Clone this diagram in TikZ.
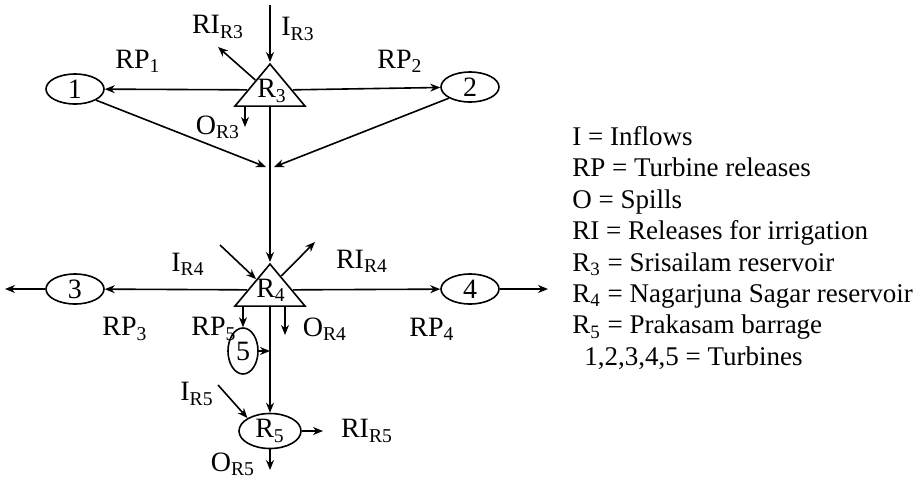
\documentclass[tikz,border=0pt]{standalone}
\usepackage{fontspec}
\setmainfont{Liberation Serif}
\usetikzlibrary{positioning,arrows.meta,calc,shapes.geometric}

\begin{document}
\begin{tikzpicture}[
    x=0.5pt, y=-0.5pt,
    font=\fontsize{14}{15.7}\selectfont,
    >={Stealth[length=5pt,width=4pt]},
    tri/.style={draw, line width=0.8pt, isosceles triangle, shape border rotate=90,
                isosceles triangle stretches, minimum width=35pt, minimum height=21pt,
                inner sep=0pt, anchor=apex},
    turb/.style={draw, line width=0.8pt, ellipse, inner sep=0pt,
                 minimum width=29pt, minimum height=15pt},
    arrow/.style={->, line width=0.8pt}
]
\useasboundingbox (0,0) rectangle (923,478);

% --- Srisailam (R3) ---
\node[tri] (R3) at (270,62) {};
\node (R3txt) at (272,91) {R\textsubscript{3}};
\node[turb] (t1) at (75,89) {1};
\node[turb] (t2) at (470,87) {2};

\coordinate (iR3) at (270,5);
\coordinate (riR3) at (218,47);
\coordinate (oR3) at (245,127);
\coordinate (j3) at (270,167);

\draw[arrow] (iR3) -- (R3.apex);
\draw[arrow] ($(R3.left corner)!0.6!(R3.apex)$) -- (riR3);
\draw[arrow] ($(R3.left corner)!0.38!(R3.apex)$) -- (t1);
\draw[arrow] ($(R3.right corner)!0.38!(R3.apex)$) -- (t2);
\draw[arrow] (oR3 |- R3.lower side) -- (oR3);
\draw[arrow] (t1.south east) -- ([xshift=-2pt]j3);
\draw[->, line width=0.8pt, >={Stealth[open,length=5pt,width=4pt]}] (t2.south west) -- ([xshift=2pt]j3);

\node (lIR3) at (298,29) {I\textsubscript{R3}};
\node (lRIR3) at (218,27) {RI\textsubscript{R3}};
\node (lRP1) at (138,61) {RP\textsubscript{1}};
\node (lRP2) at (400,61) {RP\textsubscript{2}};
\node (lOR3) at (218,127) {O\textsubscript{R3}};

% --- Nagarjuna Sagar (R4) ---
\node[tri] (R4) at (270,262) {};
\node (R4txt) at (271,290) {R\textsubscript{4}};
\node[turb] (t3) at (75,289) {3};
\node[turb] (t4) at (470,289) {4};
\node[turb, minimum width=15pt, minimum height=23pt] (t5) at (243,351) {5};

\coordinate (out3) at (5,289);
\coordinate (out4) at (548,289);
\coordinate (iR4) at (220,245);
\coordinate (riR4) at (315,242);
\coordinate (oR4) at (285,335);

\draw[arrow] (R3.lower side) -- (R4.apex);
\draw[arrow] ($(R4.left corner)!0.38!(R4.apex)$) -- (t3);
\draw[arrow] ($(R4.right corner)!0.38!(R4.apex)$) -- (t4);
\draw[arrow] (t3) -- (out3);
\draw[arrow] (t4) -- (out4);
\draw[arrow] (iR4) -- ($(R4.left corner)!0.62!(R4.apex)$);
\draw[arrow] ($(R4.right corner)!0.69!(R4.apex)$) -- (riR4);
\draw[arrow] (t5.north |- R4.lower side) -- (t5.north);
\draw[arrow] (oR4 |- R4.lower side) -- (oR4);
\draw[arrow] (t5.east) -- (t5.east -| R4.lower side);

\node (lIR4) at (188,264) {I\textsubscript{R4}};
\node (lRIR4) at (362,261) {RI\textsubscript{R4}};
\node (lRP3) at (125,329) {RP\textsubscript{3}};
\node (lRP5) at (214,329) {RP\textsubscript{5}};
\node (lOR4) at (325,329) {O\textsubscript{R4}};
\node (lRP4) at (432,329) {RP\textsubscript{4}};

% --- Prakasam (R5) ---
\node[turb, minimum width=31pt, minimum height=17.5pt] (R5) at (270,431) {R\textsubscript{5}};

\coordinate (iR5) at (218,385);
\coordinate (riR5) at (323,431);
\coordinate (oR5) at (270,470);

\draw[arrow] (R4.lower side) -- (R5.north);
\draw[arrow] (iR5) -- (R5.north west);
\draw[arrow] (R5.east) -- (riR5);
\draw[arrow] (R5.south) -- (oR5);

\node (lIR5) at (197,394) {I\textsubscript{R5}};
\node (lRIR5) at (367,431) {RI\textsubscript{R5}};
\node (lOR5) at (233,464) {O\textsubscript{R5}};

% --- Key ---
\node[anchor=north west, align=left, inner sep=0pt,
      font=\fontsize{13.5}{15.7}\selectfont] (key) at (572,126) {
    I = Inflows\\
    RP = Turbine releases\\
    O = Spills\\
    RI = Releases for irrigation\\
    R\textsubscript{3} = Srisailam reservoir\\
    R\textsubscript{4} = Nagarjuna Sagar reservoir\\
    R\textsubscript{5} = Prakasam barrage\\
    \hspace{6pt}1,2,3,4,5 = Turbines};

\end{tikzpicture}
\end{document}
